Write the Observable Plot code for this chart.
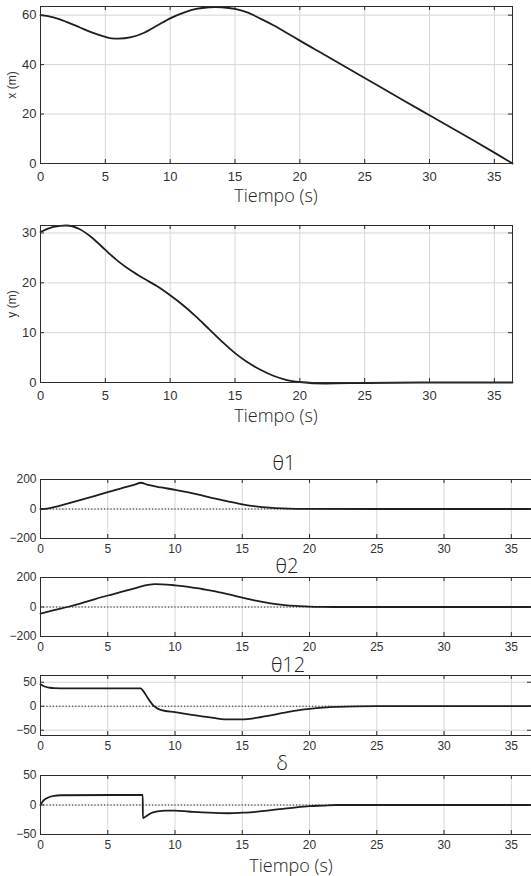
<!DOCTYPE html>
<html><head><meta charset="utf-8">
<script src="https://cdn.jsdelivr.net/npm/d3@7"></script>
<script src="https://cdn.jsdelivr.net/npm/@observablehq/plot@0.6"></script>
<style>
body{margin:0;background:#fff;width:531px;height:876px;overflow:hidden;position:relative;font-family:"Liberation Sans",Arial,sans-serif}
.p{position:absolute;left:0}
.lbl{position:absolute;font-family:"Open Sans",sans-serif;font-weight:300;color:#222;font-size:18px;transform:translate(-50%,-50%);white-space:nowrap;line-height:1}
.ylab{position:absolute;font-size:12px;color:#333;transform:translate(-50%,-50%) rotate(-90deg);white-space:nowrap;line-height:1}
</style></head><body>
<script>
// ---- data ----
const xTicks = [0, 5, 10, 15, 20, 25, 30, 35];

const tPosX = [0,1,2,3,4,5,5.5,6,7,8,9,10,11,12,13,13.5,14,15,16,17,18,19,20,22,25,28,30,33,35,36.4];
const posX  = [60,59.1,57.3,55.1,52.9,51.2,50.6,50.5,51.1,52.9,55.8,58.7,60.9,62.5,63.2,63.3,63.2,62.5,61,58.5,55.8,52.8,49.7,43.7,34.6,25.5,19.5,10.5,4.4,0];
const posXTicks = [0, 20, 40, 60];

const tPosY = [0,1,2,3,4,5,6,7,8,9,10,11,12,13,14,15,16,17,18,19,20,22,25,30,36.4];
const posY  = [30.2,31.2,31.5,30.8,29,26.6,24.3,22.4,20.8,19.3,17.5,15.5,13.2,10.7,8.2,5.9,4,2.5,1.3,0.5,0.1,-0.2,-0.1,0,0];
const posYTicks = [0, 10, 20, 30];

const tTheta1 = [0,0.5,1,2,3,4,5,6,7,7.45,8,9,10,11,12,13,14,15,16,17,18,19,20,25,36.5];
const theta1  = [0,3,12,37,62,88,114,140,165,178,163,146,130,112,92,70,50,32,18,9,4,1.5,0.5,0,0];

const tTheta2 = [0,1,2,3,4,5,6,7,7.5,8,8.5,9,10,11,12,13,14,15,16,17,18,19,20,21,22,36.5];
const theta2  = [-45,-22,0,25,52,78,102,127,140,150,155,154,147,137,122,106,85,63,43,27,15,7,3,1,0,0];
const thetaTicks = [-200, 0, 200];

const tTheta12 = [0,0.3,0.7,1,2,7.45,7.6,7.8,8,8.2,8.4,8.7,9,10,11,12,13,14,15,16,17,18,19,20,21,22,25,36.5];
const theta12  = [46,41,38.5,37.5,37,37,33,25,16,8,1,-5,-8,-12.5,-17,-21,-25,-27.5,-27.5,-24.5,-19.5,-14,-9,-5.5,-3,-1.5,0,0];
const theta12Ticks = [-50, 0, 50];

const tDelta = [0,0.2,0.5,1,1.5,7.6,7.61,7.8,8.2,8.7,9.3,10,11,12,13,14,15,16,17,18,19,20,21,22,36.5];
const delta  = [0,7,12,15.5,16.5,17,-22,-20,-14,-11,-9.5,-9.5,-11,-12.5,-13.5,-14,-13,-11.5,-9,-6.5,-4,-2,-1,0,0];
const deltaTicks = [-50, 0, 50];

// ---- drawing ----
function panel(cfg) {
  const {t, v, top, height, mt, mb, mr, xDomain, yDomain, yTicks, fs, xPad, zero} = cfg;
  const width = 531, ml = 40;
  const data = t.map((d, i) => ({t: d, v: v[i]}));
  const ph = height - mt - mb, pw = width - ml - mr;
  const ink = "#2b2b2b";
  const marks = [
    Plot.gridX(xTicks, {stroke: "#d6d6d6", strokeOpacity: 1}),
    Plot.gridY(yTicks, {stroke: "#d6d6d6", strokeOpacity: 1})
  ];
  if (zero) marks.push(Plot.ruleY([0], {stroke: "#222", strokeDasharray: "1.2,2", strokeWidth: 1}));
  marks.push(
    Plot.line(data, {x: "t", y: "v", stroke: "#1e1e1e", strokeWidth: 1.8, curve: "monotone-x"}),
    Plot.frame({stroke: ink}),
    Plot.tickX(xTicks, {x: d => d, insetTop: ph - 4, stroke: ink}),
    Plot.tickX(xTicks, {x: d => d, insetBottom: ph - 4, stroke: ink}),
    Plot.tickY(yTicks, {y: d => d, insetRight: pw - 4, stroke: ink}),
    Plot.tickY(yTicks, {y: d => d, insetLeft: pw - 4, stroke: ink}),
    Plot.axisX(xTicks, {tickSize: 0, tickPadding: xPad, fontSize: fs, fill: "#333", label: null}),
    Plot.axisY(yTicks, {tickSize: 0, tickPadding: 4, fontSize: fs, fill: "#333", label: null})
  );
  const svg = Plot.plot({
    width, height, marginLeft: ml, marginRight: mr, marginTop: mt, marginBottom: mb,
    x: {domain: xDomain}, y: {domain: yDomain},
    style: {fontFamily: "'Liberation Sans', Arial, sans-serif", background: "transparent", overflow: "visible"},
    marks
  });
  const wrap = document.createElement("div");
  wrap.className = "p";
  wrap.style.top = top + "px";
  wrap.appendChild(svg);
  document.body.appendChild(wrap);
}

function label(text, x, y, cls = "lbl", size) {
  const d = document.createElement("div");
  d.className = cls;
  d.textContent = text;
  d.style.left = x + "px";
  d.style.top = y + "px";
  if (size) d.style.fontSize = size + "px";
  document.body.appendChild(d);
}

panel({t: tPosX, v: posX, top: 0, height: 185, mt: 6, mb: 22, mr: 19,
  xDomain: [0, 36.4], yDomain: [0, 63.5], yTicks: posXTicks, fs: 13, xPad: 8, zero: false});
panel({t: tPosY, v: posY, top: 219, height: 185, mt: 6, mb: 22, mr: 19,
  xDomain: [0, 36.4], yDomain: [0, 31.5], yTicks: posYTicks, fs: 13, xPad: 8, zero: false});
panel({t: tTheta1, v: theta1, top: 473, height: 85, mt: 6, mb: 20, mr: 0,
  xDomain: [0, 36.5], yDomain: [-200, 200], yTicks: thetaTicks, fs: 12, xPad: 6, zero: true});
panel({t: tTheta2, v: theta2, top: 571, height: 85, mt: 6, mb: 20, mr: 0,
  xDomain: [0, 36.5], yDomain: [-200, 200], yTicks: thetaTicks, fs: 12, xPad: 6, zero: true});
panel({t: tTheta12, v: theta12, top: 669, height: 86, mt: 6, mb: 20, mr: 0,
  xDomain: [0, 36.5], yDomain: [-61, 64], yTicks: theta12Ticks, fs: 12, xPad: 6, zero: true});
panel({t: tDelta, v: delta, top: 769, height: 85, mt: 6, mb: 20, mr: 0,
  xDomain: [0, 36.5], yDomain: [-50, 50], yTicks: deltaTicks, fs: 12, xPad: 6, zero: true});

label("x (m)", 12, 85, "ylab");
label("y (m)", 12, 304, "ylab");
label("Tiempo (s)", 276, 195);
label("Tiempo (s)", 276, 415);
label("θ1", 284, 463, "lbl", 20);
label("θ2", 287, 566, "lbl", 20);
label("θ12", 288, 665, "lbl", 20);
label("δ", 282, 763, "lbl", 20);
label("Tiempo (s)", 291, 865);
</script>
</body></html>
